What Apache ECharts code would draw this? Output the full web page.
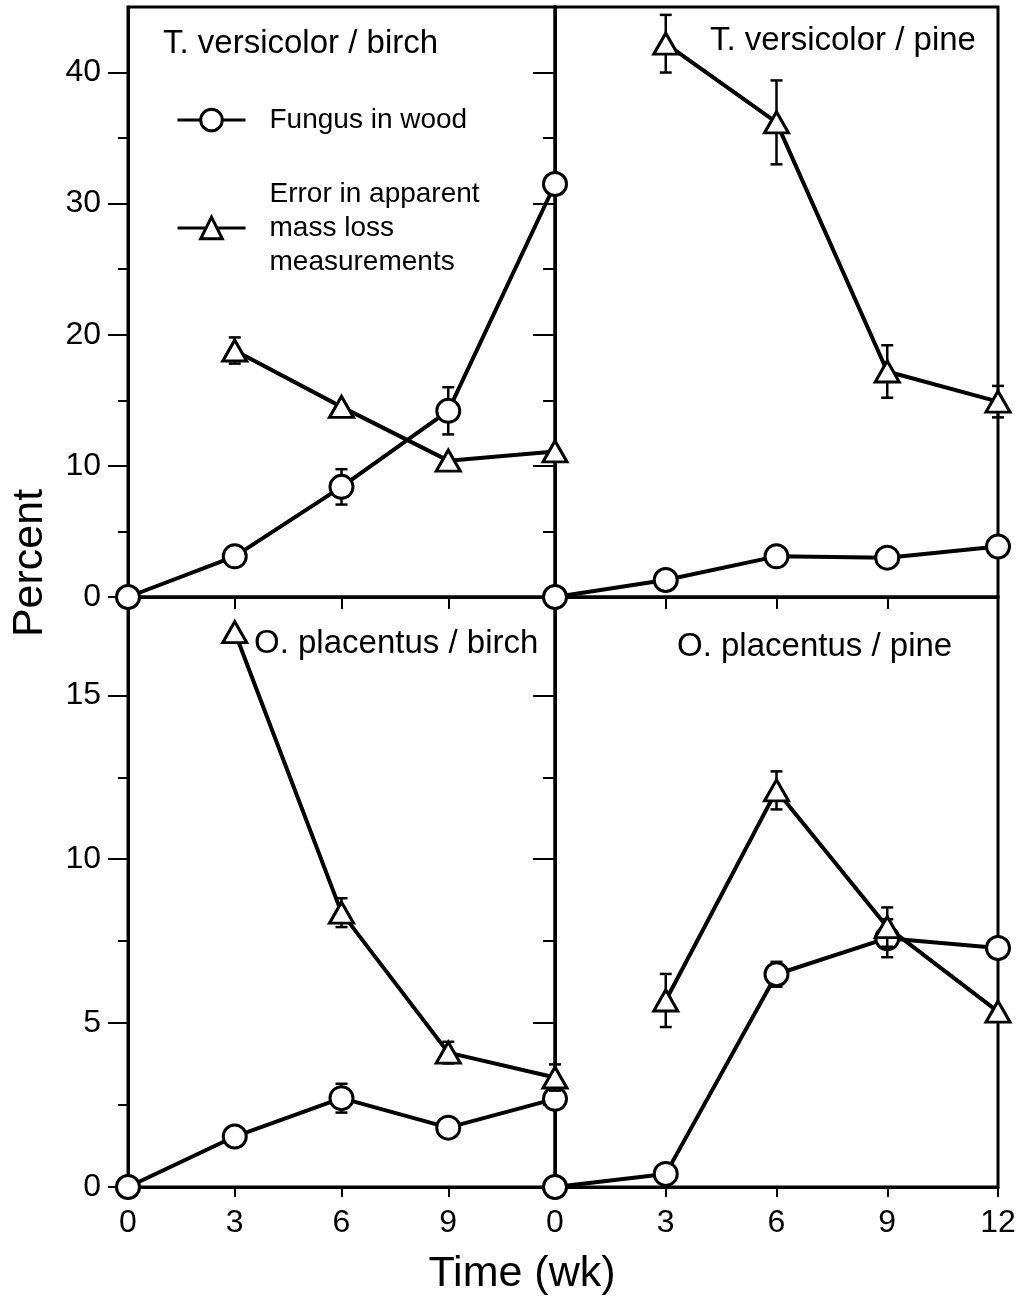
<!DOCTYPE html>
<html>
<head>
<meta charset="utf-8">
<script src="https://cdn.jsdelivr.net/npm/echarts@6.0.0/dist/echarts.min.js"></script>
<style>
html, body { margin: 0; padding: 0; background: #fff; }
#chart { width: 1019px; height: 1299px; }
</style>
</head>
<body>
<div id="chart"></div>
<script>
// time in weeks, shared by every panel
var weeks = [0, 3, 6, 9, 12];

// T. versicolor / birch
var tvBirchFungus    = [0, 3.1, 8.4, 14.2, 31.5];
var tvBirchFungusErr = [0, 0, 1.35, 1.8, 0];
var tvBirchMass      = [null, 18.8, 14.5, 10.4, 11.1];
var tvBirchMassErr   = [0, 1.0, 0, 0, 0];

// T. versicolor / pine
var tvPineFungus    = [0, 1.3, 3.1, 3.0, 3.85];
var tvPineFungusErr = [0, 0, 0, 0, 0];
var tvPineMass      = [null, 42.2, 36.2, 17.2, 14.9];
var tvPineMassErr   = [0, 2.2, 3.2, 2.0, 1.2];

// O. placentus / birch
var opBirchFungus    = [0, 1.54, 2.71, 1.81, 2.69];
var opBirchFungusErr = [0, 0, 0.44, 0.3, 0];
var opBirchMass      = [null, 16.93, 8.37, 4.1, 3.34];
var opBirchMassErr   = [0, 0, 0.44, 0.33, 0.4];

// O. placentus / pine
var opPineFungus    = [0, 0.4, 6.49, 7.59, 7.29];
var opPineFungusErr = [0, 0, 0.38, 0.58, 0];
var opPineMass      = [null, 5.69, 12.1, 7.93, 5.35];
var opPineMassErr   = [0, 0.81, 0.58, 0.6, 0];

var panelTitles = ['T. versicolor / birch', 'T. versicolor / pine', 'O. placentus / birch', 'O. placentus / pine'];
var nameFungus = 'Fungus in wood';
var nameMass = 'Error in apparent\nmass loss\nmeasurements';

var topMajor = [0, 10, 20, 30, 40];
var topMinor = [5, 15, 25, 35];
var botMajor = [0, 5, 10, 15];
var botMinor = [2.5, 7.5, 12.5];

var FONT = '"Liberation Sans", Arial, Helvetica, sans-serif';

function pairs(vals) {
    var out = [];
    for (var i = 0; i < weeks.length; i++) out.push([weeks[i], vals[i]]);
    return out;
}

function errData(vals, errs) {
    var out = [];
    for (var i = 0; i < weeks.length; i++) {
        if (vals[i] != null && errs[i] > 0) out.push([weeks[i], vals[i] - errs[i], vals[i] + errs[i]]);
    }
    return out;
}

function renderErr(params, api) {
    var lo = api.coord([api.value(0), api.value(1)]);
    var hi = api.coord([api.value(0), api.value(2)]);
    var w = 6;
    var st = { stroke: '#000', lineWidth: 2.5 };
    return {
        type: 'group',
        children: [
            { type: 'line', shape: { x1: lo[0], y1: lo[1], x2: hi[0], y2: hi[1] }, style: st },
            { type: 'line', shape: { x1: lo[0] - w, y1: lo[1], x2: lo[0] + w, y2: lo[1] }, style: st },
            { type: 'line', shape: { x1: hi[0] - w, y1: hi[1], x2: hi[0] + w, y2: hi[1] }, style: st }
        ]
    };
}

var grids = [
    { left: 128, top: 7, width: 427, height: 590 },
    { left: 555, top: 7, width: 443, height: 590 },
    { left: 128, top: 597, width: 427, height: 590 },
    { left: 555, top: 597, width: 443, height: 590 }
];
grids.forEach(function (g) { g.show = true; g.borderColor = '#000'; g.borderWidth = 3; });

var xAxes = [], yAxes = [], series = [];

var panels = [
    [tvBirchFungus, tvBirchFungusErr, tvBirchMass, tvBirchMassErr],
    [tvPineFungus, tvPineFungusErr, tvPineMass, tvPineMassErr],
    [opBirchFungus, opBirchFungusErr, opBirchMass, opBirchMassErr],
    [opPineFungus, opPineFungusErr, opPineMass, opPineMassErr]
];

for (var gi = 0; gi < 4; gi++) {
    var isTop = gi < 2, isLeft = gi % 2 === 0;
    xAxes.push({
        type: 'value', gridIndex: gi, min: 0, max: 12, interval: 3,
        axisLine: { show: true, lineStyle: { color: '#000', width: 3 } },
        axisTick: { show: true, length: isTop ? 12 : 10, lineStyle: { color: '#000', width: 2 } },
        axisLabel: {
            show: !isTop, margin: 20, fontSize: 32, color: '#000', fontFamily: FONT,
            formatter: (function (left) { return function (v) { return (left && v === 12) ? '' : String(v); }; })(isLeft)
        },
        splitLine: { show: false }
    });
    var major = isTop ? topMajor : botMajor;
    var minor = isTop ? topMinor : botMinor;
    var ymax = isTop ? 45 : 18;
    yAxes.push({
        type: 'value', gridIndex: gi, position: 'left', min: 0, max: ymax,
        axisLine: { show: true, lineStyle: { color: '#000', width: 3 } },
        axisTick: { show: true, length: isLeft ? 20 : 22, customValues: major, lineStyle: { color: '#000', width: 2 } },
        axisLabel: { show: isLeft, customValues: major, margin: 27, fontSize: 32, color: '#000', fontFamily: FONT },
        splitLine: { show: false }
    });
    yAxes.push({
        type: 'value', gridIndex: gi, position: 'left', offset: 0, min: 0, max: ymax,
        axisLine: { show: false },
        axisTick: { show: true, length: isLeft ? 10 : 12, customValues: minor, lineStyle: { color: '#000', width: 2 } },
        axisLabel: { show: false },
        splitLine: { show: false }
    });

    var p = panels[gi];
    series.push({
        type: 'custom', xAxisIndex: gi, yAxisIndex: gi * 2, z: 2,
        data: errData(p[0], p[1]), renderItem: renderErr, encode: { x: 0, y: [1, 2] }
    });
    series.push({
        type: 'line', name: nameFungus, xAxisIndex: gi, yAxisIndex: gi * 2, z: 3,
        data: pairs(p[0]), symbol: 'circle', symbolSize: 23,
        lineStyle: { color: '#000', width: 4 },
        itemStyle: { color: '#fff', borderColor: '#000', borderWidth: 3 }
    });
    series.push({
        type: 'custom', xAxisIndex: gi, yAxisIndex: gi * 2, z: 4,
        data: errData(p[2], p[3]), renderItem: renderErr, encode: { x: 0, y: [1, 2] }
    });
    series.push({
        type: 'line', name: nameMass, xAxisIndex: gi, yAxisIndex: gi * 2, z: 5,
        data: pairs(p[2]), symbol: 'triangle', symbolSize: [24, 21],
        lineStyle: { color: '#000', width: 4 },
        itemStyle: { color: '#fff', borderColor: '#000', borderWidth: 3 }
    });
}

var titleStyle = { fontSize: 33, fontWeight: 'normal', color: '#000', fontFamily: FONT };
var titles = [
    { text: panelTitles[0], left: 163, top: 27, textStyle: titleStyle },
    { text: panelTitles[1], left: 710, top: 24, textStyle: titleStyle },
    { text: panelTitles[2], left: 254, top: 627, textStyle: titleStyle },
    { text: panelTitles[3], left: 677, top: 630, textStyle: titleStyle }
];
titles.forEach(function (t) { t.padding = 0; });

var chart = echarts.init(document.getElementById('chart'));
chart.setOption({
    animation: false,
    backgroundColor: '#fff',
    title: titles,
    legend: {
        data: [nameFungus, nameMass],
        orient: 'vertical', left: 176, top: 103, padding: 0,
        itemWidth: 68, itemHeight: 27, itemGap: 40,
        selectedMode: false,
        lineStyle: { width: 3, color: '#000' },
        itemStyle: { color: '#fff', borderColor: '#000', borderWidth: 3 },
        textStyle: { fontSize: 28, lineHeight: 34, color: '#000', fontFamily: FONT, padding: [0, 0, 0, 19] }
    },
    grid: grids,
    xAxis: xAxes,
    yAxis: yAxes,
    series: series,
    graphic: [
        {
            type: 'text', x: 30, y: 563, rotation: Math.PI / 2,
            style: { text: 'Percent', font: '43px ' + FONT, fill: '#000', textAlign: 'center', textVerticalAlign: 'middle' }
        },
        {
            type: 'text', x: 522, y: 1274,
            style: { text: 'Time (wk)', font: '43px ' + FONT, fill: '#000', textAlign: 'center', textVerticalAlign: 'middle' }
        }
    ]
});
</script>
</body>
</html>
